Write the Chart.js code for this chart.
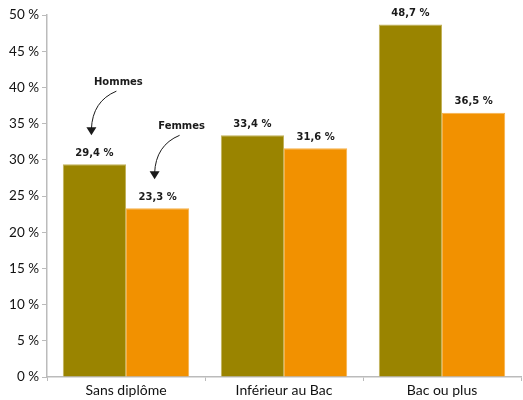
<!DOCTYPE html>
<html>
<head>
<meta charset="utf-8">
<script src="https://cdn.jsdelivr.net/npm/chart.js@4"></script>
<style>
  html, body { margin: 0; padding: 0; background: #fff; }
  #wrap { width: 523px; height: 400px; }
</style>
</head>
<body>
<div id="wrap"><canvas id="barChart" width="523" height="400"></canvas></div>
<script>
// ---- data ----
const categories = ["Sans diplôme", "Inférieur au Bac", "Bac ou plus"];
const hommes = [29.4, 33.4, 48.7];
const femmes = [23.3, 31.6, 36.5];
const seriesNames = ["Hommes", "Femmes"];

const fmt = v => v.toFixed(1).replace(".", ",") + " %";

// value labels + the two arrow notes on the first group
const labelsPlugin = {
  id: "barLabels",
  afterDatasetsDraw(chart) {
    const ctx = chart.ctx;
    ctx.save();
    ctx.fillStyle = "#1a1a1a";
    ctx.font = "bold 10px 'DejaVu Sans'";
    ctx.textAlign = "center";
    ctx.textBaseline = "bottom";
    chart.data.datasets.forEach((ds, i) => {
      chart.getDatasetMeta(i).data.forEach((bar, j) => {
        ctx.fillText(fmt(ds.data[j]), bar.x, bar.y - 6);
      });
    });

    // notes: "Hommes" / "Femmes" with curved arrows
    seriesNames.forEach((name, i) => {
      const bar = chart.getDatasetMeta(i).data[0];
      const tipX = bar.x - 3;
      const tipY = bar.y - 29;
      const sx = tipX + 25;
      const sy = tipY - 44;
      ctx.fillStyle = "#1a1a1a";
      ctx.textBaseline = "middle";
      ctx.fillText(name, sx + 2, sy - 9);
      ctx.strokeStyle = "#1a1a1a";
      ctx.lineWidth = 1;
      ctx.beginPath();
      ctx.moveTo(sx, sy);
      ctx.quadraticCurveTo(tipX + 1, sy + 10, tipX, tipY - 6);
      ctx.stroke();
      ctx.beginPath();
      ctx.moveTo(tipX - 5, tipY - 8);
      ctx.lineTo(tipX + 5, tipY - 8);
      ctx.lineTo(tipX, tipY);
      ctx.closePath();
      ctx.fill();
    });
    ctx.restore();
  }
};

const ctx = document.getElementById("barChart");

window.barChartInstance = new Chart(ctx, {
  type: "bar",
  data: {
    labels: categories,
    datasets: [
      { label: seriesNames[0], data: hommes, backgroundColor: "#9a8400", borderColor: "#c2b25a", borderWidth: 1 },
      { label: seriesNames[1], data: femmes, backgroundColor: "#f29100", borderColor: "#f7b24a", borderWidth: 1 }
    ]
  },
  options: {
    responsive: false,
    animation: false,
    layout: { padding: { top: 15, right: 2, left: 0, bottom: 0 } },
    plugins: {
      legend: { display: false },
      tooltip: { enabled: false }
    },
    datasets: {
      bar: { categoryPercentage: 0.8, barPercentage: 1.0 }
    },
    scales: {
      x: {
        grid: { display: true, drawOnChartArea: false, color: "#bbbbbb", tickLength: 4, offset: true },
        border: { color: "#bbbbbb", width: 1.5 },
        ticks: { color: "#111111", font: { family: "Lato", size: 14 }, padding: 1 },
        afterFit(scale) { scale.height = 23; }
      },
      y: {
        min: 0,
        max: 50,
        grid: { display: true, drawOnChartArea: false, color: "#bbbbbb", tickLength: 5 },
        border: { color: "#bbbbbb", width: 1.5 },
        ticks: {
          stepSize: 5,
          color: "#111111",
          font: { family: "Lato", size: 13.5 },
          padding: 3,
          callback: v => v + " %"
        },
        afterFit(scale) { scale.width = 47; }
      }
    }
  },
  plugins: [labelsPlugin]
});
</script>
</body>
</html>
